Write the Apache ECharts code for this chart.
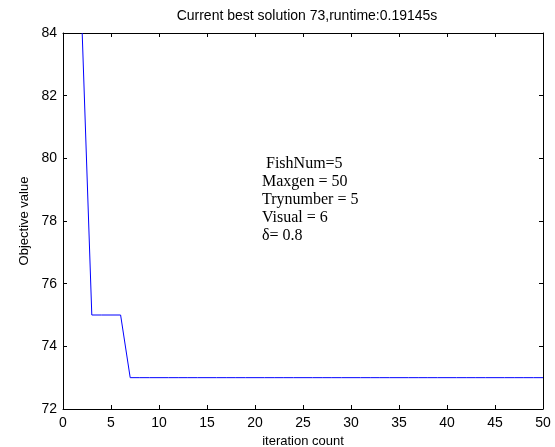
<!DOCTYPE html>
<html>
<head>
<meta charset="utf-8">
<script src="https://cdn.jsdelivr.net/npm/echarts@6/dist/echarts.min.js"></script>
<style>
html,body{margin:0;padding:0;background:#fff;}
#chart{width:555px;height:447px;}
</style>
</head>
<body>
<div id="chart"></div>
<script>
const titleText = 'Current best solution 73,runtime:0.19145s';
const xName = 'iteration count';
const yName = 'Objective value';
const iterations = [2,3,4,5,6,7,8,9,10,11,12,13,14,15,16,17,18,19,20,21,22,23,24,25,26,27,28,29,30,31,32,33,34,35,36,37,38,39,40,41,42,43,44,45,46,47,48,49,50];
const bestValues = [84,75,75,75,75,73,73,73,73,73,73,73,73,73,73,73,73,73,73,73,73,73,73,73,73,73,73,73,73,73,73,73,73,73,73,73,73,73,73,73,73,73,73,73,73,73,73,73,73];
const annoLines = [' FishNum=5', 'Maxgen = 50', 'Trynumber = 5', 'Visual = 6', 'δ= 0.8'];

const chart = echarts.init(document.getElementById('chart'), null, {renderer: 'canvas'});
const axisLineStyle = {color: '#000', width: 1};
const sans = 'Liberation Sans, Arial, sans-serif';

const option = {
  backgroundColor: '#fff',
  animation: false,
  title: {
    text: titleText,
    left: 302,
    textAlign: 'center',
    top: 4,
    textStyle: {fontFamily: sans, fontSize: 14, fontWeight: 'normal', color: '#000'}
  },
  grid: {left: 63, right: 12, top: 33, bottom: 38, containLabel: false, outerBoundsMode: 'none'},
  xAxis: [{
    type: 'value', min: 0, max: 50, interval: 5, position: 'bottom',
    name: xName, nameLocation: 'middle', nameGap: 23,
    nameTextStyle: {fontFamily: sans, fontSize: 13, color: '#000'},
    axisLine: {show: true, onZero: false, lineStyle: axisLineStyle},
    axisTick: {show: true, inside: true, length: 4, lineStyle: axisLineStyle},
    axisLabel: {fontFamily: sans, fontSize: 14, color: '#000', margin: 7},
    splitLine: {show: false}
  }, {
    type: 'value', min: 0, max: 50, interval: 5, position: 'top',
    axisLine: {show: true, onZero: false, lineStyle: axisLineStyle},
    axisTick: {show: true, inside: true, length: 4, lineStyle: axisLineStyle},
    axisLabel: {show: false},
    splitLine: {show: false}
  }],
  yAxis: [{
    type: 'value', min: 72, max: 84, interval: 2, position: 'left',
    name: yName, nameLocation: 'middle', nameGap: 25, nameRotate: 90,
    nameTextStyle: {fontFamily: sans, fontSize: 13, color: '#000'},
    axisLine: {show: true, onZero: false, lineStyle: axisLineStyle},
    axisTick: {show: true, inside: true, length: 4, lineStyle: axisLineStyle},
    axisLabel: {fontFamily: sans, fontSize: 14, color: '#000', margin: 6},
    splitLine: {show: false}
  }, {
    type: 'value', min: 72, max: 84, interval: 2, position: 'right',
    axisLine: {show: true, onZero: false, lineStyle: axisLineStyle},
    axisTick: {show: true, inside: true, length: 4, lineStyle: axisLineStyle},
    axisLabel: {show: false},
    splitLine: {show: false}
  }],
  graphic: annoLines.map((t, i) => ({
    type: 'text',
    left: 262,
    top: 156 + i * 18,
    style: {text: t, fontFamily: 'Liberation Serif, Times New Roman, serif', fontSize: 16, fill: '#000'}
  })),
  series: [{
    type: 'line',
    data: iterations.map((x, i) => [x, bestValues[i]]),
    showSymbol: false,
    clip: true,
    lineStyle: {color: '#0000ff', width: 1},
    itemStyle: {color: '#0000ff'}
  }]
};
chart.setOption(option);
</script>
</body>
</html>
